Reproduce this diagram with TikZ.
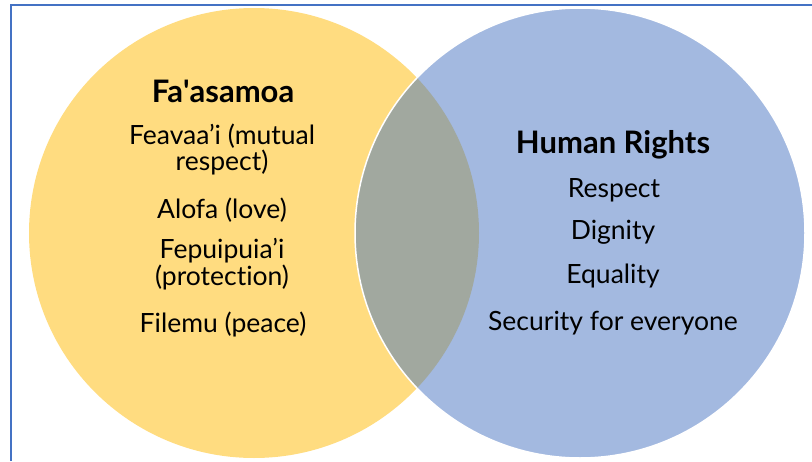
\documentclass[tikz,border=0pt]{standalone}
\usepackage{fontspec}
\setmainfont{Lato}[Ligatures=NoCommon]
\definecolor{sunny}{HTML}{FFDC80}
\definecolor{sky}{HTML}{A3B9E0}
\definecolor{overlap}{HTML}{A1A89F}
\definecolor{framebl}{HTML}{4472C4}
\begin{document}
\begin{tikzpicture}[x=1pt,y=-1pt,
  head/.style={font=\fontsize{31}{31}\selectfont\bfseries, anchor=base},
  item/.style={font=\fontsize{26.5}{22.5}\selectfont, anchor=base, align=center, inner sep=0pt}]
\useasboundingbox (0,0) rectangle (812,461);
% two overlapping sets
\fill[sunny] (254,233) circle (225);
\fill[sky] (580,233) circle (225);
\begin{scope}
  \clip (254,233) circle (225);
  \fill[overlap] (580,233) circle (225);
\end{scope}
\draw[white, line width=1.5pt] (580,233) circle (225);
% frame edges
\draw[framebl, line width=2pt] (11,461) -- (11,5) -- (812,5);
% left set (two-line entries are placed by their last baseline)
\node[head] (fa) at (223,102) {Fa\textquotesingle asamoa};
\node[item] (fe) at (222,170) {Feavaa’i (mutual\\respect)};
\node[item] (al) at (222,218) {Alofa (love)};
\node[item] (fp) at (222,285) {Fepuipuia’i\\(protection)};
\node[item] (fi) at (223,332) {Filemu (peace)};
% right set
\node[head] (hr) at (613,153) {Human Rights};
\node[item] (re) at (614,197) {Respect};
\node[item] (di) at (613,239) {Dignity};
\node[item] (eq) at (613,283) {Equality};
\node[item] (se) at (613,330) {Security for everyone};
\end{tikzpicture}
\end{document}
